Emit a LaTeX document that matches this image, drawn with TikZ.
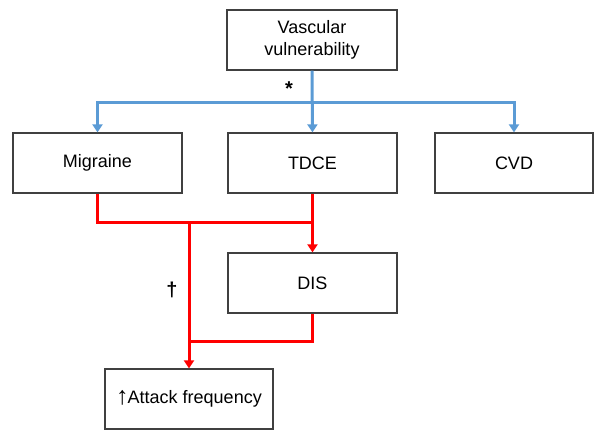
\documentclass[tikz,border=0pt]{standalone}
\usepackage{fontspec}
\setmainfont{Liberation Sans}
\usetikzlibrary{calc,arrows.meta}

\definecolor{vesselblue}{RGB}{91,155,213}
\tikzset{
  factor/.style={rectangle,draw=black!75,line width=1.3pt,minimum width=169pt,minimum height=60pt,
    inner sep=0pt,align=center,font=\fontsize{18}{21.5}\selectfont},
  blueline/.style={vesselblue,line width=3pt},
  redline/.style={red,line width=3pt},
  mark sign/.style={font=\fontsize{20}{20}\selectfont\bfseries},
}

\begin{document}
\begin{tikzpicture}[x=1pt,y=-1pt,>={Triangle[width=10pt,length=8pt]}]
    \useasboundingbox (0,0) rectangle (598,430);
    \node (vasc) at (312,40) [factor,minimum width=170pt]{Vascular\\vulnerability};
    \node (migraine) at (97.5,163) [factor]{Migraine};
    \node (tdce) at (312.5,163) [factor]{TDCE};
    \node (cvd) at (514,163) [factor,minimum width=158pt]{CVD};
    \node (dis) at (312.5,283) [factor]{DIS};
    \node (attack) at (189,399) [factor,minimum width=168pt]{\raisebox{-1pt}{\fontsize{25}{25}\selectfont\bfseries ↑}\kern-1pt Attack frequency};
    % blue branches
    \draw [->,blueline] (vasc.south) -- (tdce.north);
    \draw [->,blueline] ($(vasc.south)+(0,32)$) -| (migraine.north);
    \draw [->,blueline] ($(vasc.south)+(0,32)$) -| (cvd.north);
    \node (star) at (289,89) [mark sign]{*};
    % red branches
    \coordinate (split) at (189,222);
    \coordinate (merge) at (189,342);
    \draw [redline] (migraine.south) |- ($(tdce.south)+(0,29)$);
    \draw [->,redline] (tdce.south) -- (dis.north);
    \draw [->,redline] (split) -- (attack.north);
    \draw [redline] (dis.south) |- (merge);
    \node (dagger) at (172,290) [mark sign]{†};
\end{tikzpicture}
\end{document}
